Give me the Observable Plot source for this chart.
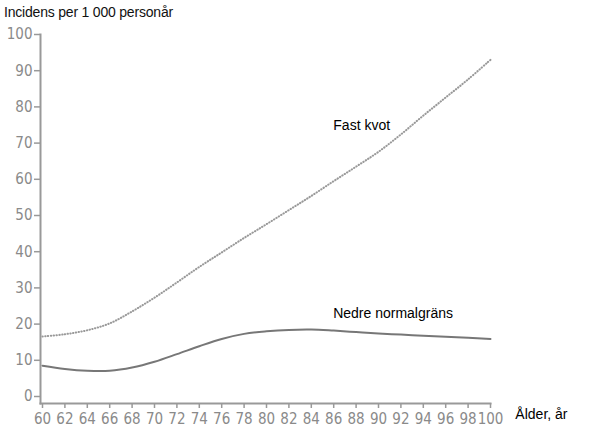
<!DOCTYPE html>
<html>
<head>
<meta charset="utf-8">
<script src="https://cdn.jsdelivr.net/npm/d3@7"></script>
<script src="https://cdn.jsdelivr.net/npm/@observablehq/plot@0.6"></script>
<style>
  html, body { margin: 0; padding: 0; background: #fff; }
  #title { font-family: "Liberation Sans", Arial, sans-serif; font-size: 14px; font-weight: 500; color: #111;
           height: 24px; line-height: 24px; padding-left: 4px; letter-spacing: -0.2px; }
</style>
</head>
<body>
<div id="title">Incidens per 1 000 personår</div>
<div id="chart"></div>
<script>
const ages = [60,62,64,66,68,70,72,74,76,78,80,82,84,86,88,90,92,94,96,98,100];
const fastKvot = [16.6,17.2,18.3,20.2,23.5,27.3,31.5,35.8,39.8,43.8,47.6,51.5,55.4,59.5,63.5,67.6,72.4,77.6,82.6,87.6,93];
const nedreNormalgrans = [8.5,7.6,7.1,7.1,8.0,9.6,11.7,13.9,15.9,17.3,18.0,18.4,18.5,18.2,17.8,17.4,17.1,16.8,16.5,16.2,15.9];
const yTicks = [0,10,20,30,40,50,60,70,80,90,100];
const xTicks = ages;
const seriesLabels = ["Fast kvot", "Nedre normalgräns"];
const labelAge = [88.5, 91.3];
const labelValue = [74.9, 22.9];
const xAxisLabel = "Ålder, år";

const fast = ages.map((a, i) => ({age: a, v: fastKvot[i]}));
const nedre = ages.map((a, i) => ({age: a, v: nedreNormalgrans[i]}));
const labels = seriesLabels.map((t, i) => ({t, age: labelAge[i], v: labelValue[i]}));

const tickFont = "'DejaVu Sans Condensed', 'DejaVu Sans', sans-serif";

const chart = Plot.plot({
  width: 600,
  height: 409,
  marginLeft: 40,
  marginRight: 110,
  marginTop: 10,
  marginBottom: 30,
  style: {background: "#fff", overflow: "visible"},
  x: {domain: [60, 100], range: [42, 490]},
  y: {domain: [0, 100], range: [372, 10]},
  marks: [
    Plot.frame({anchor: "left", stroke: "#999", strokeWidth: 2}),
    Plot.frame({anchor: "bottom", stroke: "#999", strokeWidth: 2}),
    Plot.axisY(yTicks, {anchor: "left", tickSize: 6, tickPadding: 2, stroke: "#999", strokeWidth: 1.5,
      fill: "#8a8a8a", fontSize: 15, fontFamily: tickFont, label: null}),
    Plot.axisX(xTicks, {anchor: "bottom", tickSize: 5, tickPadding: 5, stroke: "#999", strokeWidth: 1.5,
      fill: "#8a8a8a", fontSize: 15, fontFamily: tickFont, label: null, tickFormat: d => String(d)}),
    Plot.line(fast, {x: "age", y: "v", curve: "catmull-rom", stroke: "#999", strokeWidth: 2,
      strokeDasharray: "0.4,2.4", strokeLinecap: "round"}),
    Plot.line(nedre, {x: "age", y: "v", curve: "catmull-rom", stroke: "#777", strokeWidth: 2}),
    Plot.text(labels, {x: "age", y: "v", text: "t", fill: "#000", fontSize: 14, fontWeight: 500,
      fontFamily: "'Liberation Sans', Arial, sans-serif"}),
    Plot.text([xAxisLabel], {frameAnchor: "bottom-right", dx: 77, dy: 15, textAnchor: "end",
      fill: "#000", fontSize: 14, fontWeight: 500, fontFamily: "'Liberation Sans', Arial, sans-serif"})
  ]
});
document.getElementById("chart").appendChild(chart);
</script>
</body>
</html>
